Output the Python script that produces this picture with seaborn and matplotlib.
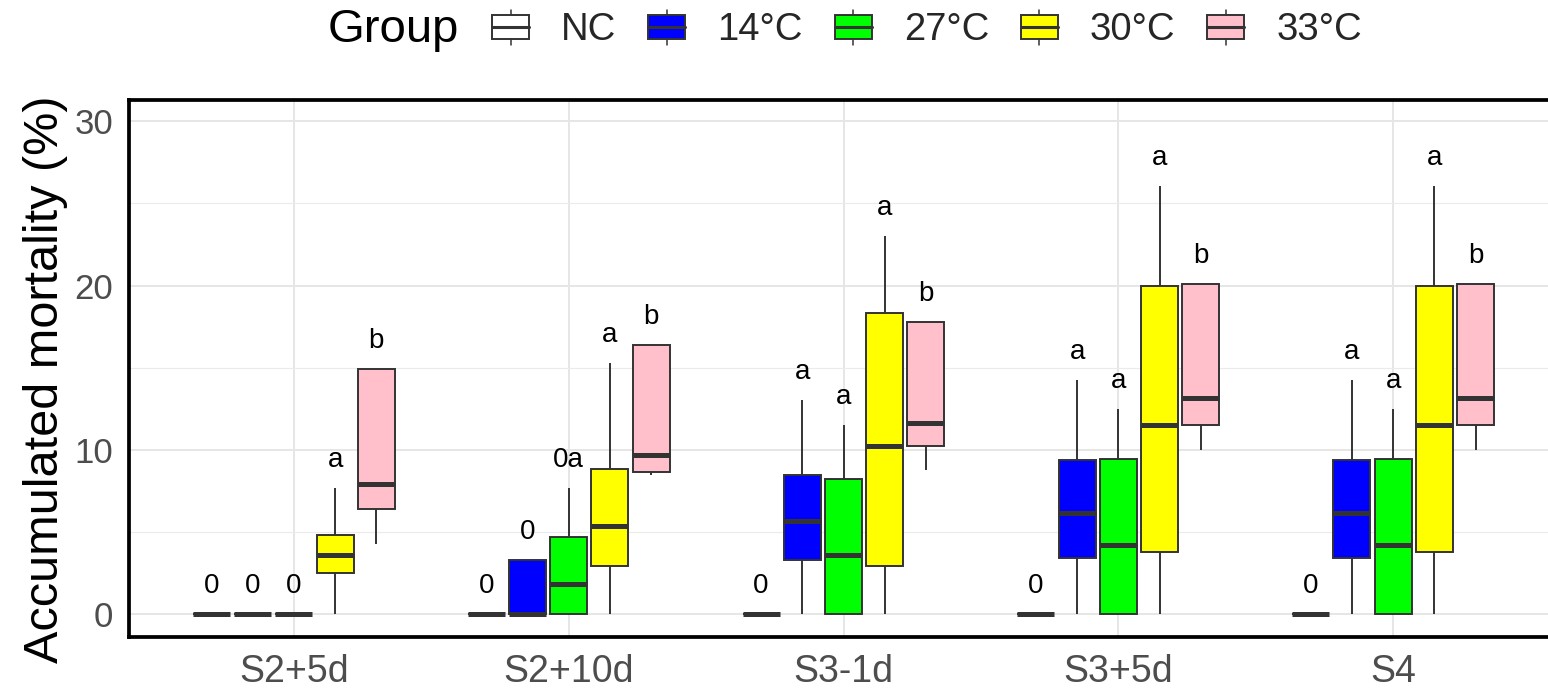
import numpy as np
import pandas as pd
import matplotlib
matplotlib.use("Agg")
import matplotlib.pyplot as plt
import seaborn as sns
from matplotlib.legend_handler import HandlerBase
from matplotlib.patches import Rectangle, Patch
from matplotlib.lines import Line2D
from matplotlib.ticker import MultipleLocator

# ---------------- data ----------------
time_points = ["S2+5d", "S2+10d", "S3-1d", "S3+5d", "S4"]
groups = ["NC", "14°C", "27°C", "30°C", "33°C"]
group_colors = ["#FFFFFF", "#0000FF", "#00FF00", "#FFFF00", "#FFC0CB"]

# five-number summaries (min, q1, median, q3, max) per time point
nc_stats = [(0, 0, 0, 0, 0), (0, 0, 0, 0, 0), (0, 0, 0, 0, 0),
            (0, 0, 0, 0, 0), (0, 0, 0, 0, 0)]
c14_stats = [(0, 0, 0, 0, 0), (0, 0, 0, 3.3, 3.3), (0, 3.3, 5.65, 8.48, 13.04),
             (0, 3.43, 6.13, 9.35, 14.24), (0, 3.43, 6.13, 9.35, 14.24)]
c27_stats = [(0, 0, 0, 0, 0), (0, 0, 1.85, 4.67, 7.65), (0, 0, 3.59, 8.22, 11.52),
             (0, 0, 4.2, 9.41, 12.5), (0, 0, 4.2, 9.41, 12.5)]
c30_stats = [(0, 2.5, 3.59, 4.83, 7.65), (0, 2.93, 5.33, 8.85, 15.3),
             (0, 2.93, 10.26, 18.3, 23.04), (0, 3.8, 11.48, 19.96, 26.09),
             (0, 3.8, 11.48, 19.96, 26.09)]
c33_stats = [(4.24, 6.41, 7.93, 14.9, 14.9), (8.48, 8.63, 9.67, 16.4, 16.4),
             (8.74, 10.26, 11.63, 17.76, 17.76), (10.0, 11.52, 13.15, 20.07, 20.07),
             (10.0, 11.52, 13.15, 20.07, 20.07)]

nc_letters = ["0", "0", "0", "0", "0"]
c14_letters = ["0", "0", "a", "a", "a"]
c27_letters = ["0", "0a", "a", "a", "a"]
c30_letters = ["a", "a", "a", "a", "a"]
c33_letters = ["b", "b", "b", "b", "b"]

all_stats = [nc_stats, c14_stats, c27_stats, c30_stats, c33_stats]
all_letters = [nc_letters, c14_letters, c27_letters, c30_letters, c33_letters]

rows = []
for g, stats in zip(groups, all_stats):
    for tp, five in zip(time_points, stats):
        for v in five:
            rows.append((tp, g, v))
df = pd.DataFrame(rows, columns=["Time", "Group", "Mortality"])

# ---------------- style ----------------
sns.set_theme(style="white")
plt.rcParams["font.family"] = ["Liberation Sans", "DejaVu Sans"]

W, H = 1548, 695
fig = plt.figure(figsize=(W / 100, H / 100), dpi=100)
ax = fig.add_axes([129 / W, 1 - 637 / H, (1558 - 129) / W, (637 - 100) / H])

edge = "#333333"
sns.boxplot(data=df, x="Time", y="Mortality", hue="Group",
            order=time_points, hue_order=groups, palette=group_colors,
            saturation=1, width=0.75, gap=0.1, whis=(0, 100),
            showcaps=False, fliersize=0, linecolor=edge, linewidth=1.4,
            medianprops=dict(linewidth=3.6, color=edge),
            legend=False, ax=ax)

# significance letters
n_g = len(groups)
slot = 0.75 / n_g
for j, (stats, letters) in enumerate(zip(all_stats, all_letters)):
    for i, (five, lab) in enumerate(zip(stats, letters)):
        ax.text(i + (j - (n_g - 1) / 2) * slot, five[4] + 1.28, lab,
                ha="center", va="baseline", fontsize=20, color="black")

ax.set_xlim(-0.6, 4.6)
ax.set_ylim(-1.40, 31.3)
ax.set_yticks([0, 10, 20, 30])
ax.yaxis.set_minor_locator(MultipleLocator(5))
ax.set_axisbelow(True)
ax.grid(which="major", color="#E6E6E6", linewidth=1.4)
ax.grid(which="minor", axis="y", color="#EBEBEB", linewidth=0.8)

for s in ax.spines.values():
    s.set_visible(True)
    s.set_color("black")
    s.set_linewidth(2.7)
    s.set_zorder(5)

ax.tick_params(axis="both", which="major", direction="out", length=4.5,
               width=1.1, color=edge, labelcolor="#4D4D4D")
ax.tick_params(axis="both", which="minor", length=0)
ax.tick_params(axis="x", labelsize=27, pad=8)
ax.tick_params(axis="y", labelsize=25, pad=7)
ax.set_xlabel("")
ax.set_ylabel("Accumulated mortality (%)", fontsize=35, color="black")
ax.yaxis.set_label_coords(-0.043, 0.48)


# ---------------- legend ----------------
class BoxKey(HandlerBase):
    def create_artists(self, legend, orig_handle, xdescent, ydescent,
                       width, height, fontsize, trans):
        fc = orig_handle.get_facecolor()
        x0, y0 = -xdescent, -ydescent
        b0, b1 = y0 + 0.16 * height, y0 + 0.84 * height
        xm = x0 + width / 2
        rect = Rectangle((x0, b0), width, b1 - b0, facecolor=fc,
                         edgecolor=edge, linewidth=1.4, transform=trans)
        w1 = Line2D([xm, xm], [y0, b0], color=edge, lw=1.1, transform=trans)
        w2 = Line2D([xm, xm], [b1, y0 + height], color=edge, lw=1.1, transform=trans)
        med = Line2D([x0, x0 + width], [(b0 + b1) / 2] * 2, color=edge,
                     lw=2.2, transform=trans)
        return [rect, w1, w2, med]


handles = [Patch(facecolor=c, edgecolor=edge) for c in group_colors]
fs = 27.5
fpx = fs * 100 / 72
fig.legend(handles, groups, handler_map={Patch: BoxKey()},
           loc="center left", bbox_to_anchor=(492 / W, 1 - 29 / H),
           ncol=5, frameon=False, fontsize=fs,
           handlelength=37 / fpx, handleheight=40 / fpx,
           handletextpad=32 / fpx, columnspacing=32 / fpx,
           borderpad=0, borderaxespad=0)
fig.text(459 / W, 1 - 42 / H, "Group", ha="right", va="baseline",
         fontsize=34, color="black")

fig.savefig("out.png", dpi=100)
